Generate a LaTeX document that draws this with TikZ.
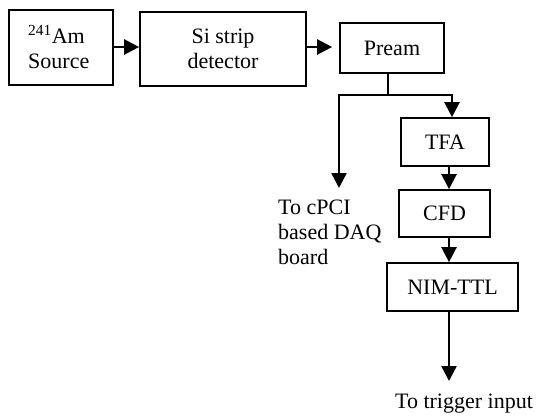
\documentclass[tikz,border=0pt]{standalone}
\usepackage{fontspec}
\setmainfont{Liberation Serif}
\usetikzlibrary{arrows.meta}
\begin{document}
\begin{tikzpicture}[x=1pt,y=-1pt,
  blk/.style={draw,line width=1.7pt,inner sep=0pt,font=\fontsize{22}{25}\selectfont},
  lab/.style={inner sep=0pt,font=\fontsize{22}{25}\selectfont},
  conn/.style={line width=2.4pt,-{Triangle[length=15pt,width=15pt]}},
  wire/.style={line width=2.4pt}]
\useasboundingbox (0,0) rectangle (537,417);
\node[blk,minimum width=104pt,minimum height=75pt] (am) at (61,47.5) {};
\node[lab,align=left,anchor=west] (amt) at (28,47) {\textsuperscript{241}Am\\Source};
\node[blk,minimum width=166pt,minimum height=74pt,align=center] (si) at (223,49) {Si strip\\detector};
\node[blk,minimum width=104pt,minimum height=50pt] (pre) at (392,48) {Pream};
\node[blk,minimum width=88pt,minimum height=48pt] (tfa) at (445,142) {TFA};
\node[blk,minimum width=91pt,minimum height=47pt] (cfd) at (444.5,213.5) {CFD};
\node[blk,minimum width=131pt,minimum height=48pt] (nim) at (452.5,287) {NIM-TTL};
\node[lab,align=left,anchor=north west] (daq) at (278,200) {To cPCI\\based DAQ\\board};
\node[lab] (trig) at (464,404) {To trigger input};
\coordinate (br) at (388,95);
\coordinate (bl) at (339,95);
\coordinate (brr) at (452,95);
\coordinate (dq) at (339,188);
\coordinate (tg) at (449,381);
\draw[conn] (am.east |- 0,47) -- (si.west |- 0,47);
\draw[conn,shorten >=7pt] (si.east |- 0,47) -- (pre.west |- 0,47);
\draw[wire] (br |- pre.south) -- (br);
\draw[wire] ([xshift=-1.2pt]bl) -- ([xshift=1.2pt]brr);
\draw[conn] (bl) -- (dq);
\draw[conn] (brr) -- (brr |- tfa.north);
\draw[conn] (tfa.south -| 449,0) -- (cfd.north -| 449,0);
\draw[conn] (cfd.south -| 449,0) -- (nim.north -| 449,0);
\draw[conn] (nim.south -| 449,0) -- (tg);
\end{tikzpicture}
\end{document}
